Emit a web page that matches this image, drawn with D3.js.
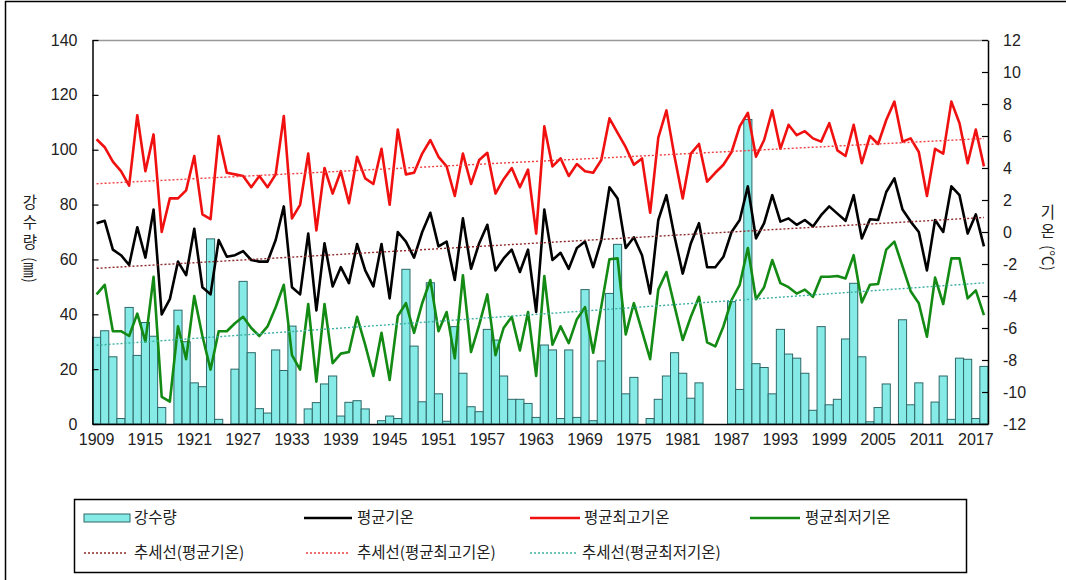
<!DOCTYPE html>
<html><head><meta charset="utf-8">
<script src="https://cdn.jsdelivr.net/npm/d3@7"></script>
<style>
body{margin:0;background:#fff;}
svg{display:block;}
.tk text{font-family:"Liberation Sans",Arial,sans-serif;font-size:16px;fill:#222;}
.kr{font-family:"Noto Sans CJK KR","Noto Sans",sans-serif;font-size:15.5px;fill:#222;}
</style></head><body>
<svg id="c" width="1066" height="580"></svg>
<script>
const years = [1909,1910,1911,1912,1913,1914,1915,1916,1917,1918,1919,1920,1921,1922,1923,1924,1925,1926,1927,1928,1929,1930,1931,1932,1933,1934,1935,1936,1937,1938,1939,1940,1941,1942,1943,1944,1945,1946,1947,1948,1949,1950,1951,1952,1953,1954,1955,1956,1957,1958,1959,1960,1961,1962,1963,1964,1965,1966,1967,1968,1969,1970,1971,1972,1973,1974,1975,1976,1977,1978,1979,1980,1981,1982,1983,1984,1985,1986,1987,1988,1989,1990,1991,1992,1993,1994,1995,1996,1997,1998,1999,2000,2001,2002,2003,2004,2005,2006,2007,2008,2009,2010,2011,2012,2013,2014,2015,2016,2017,2018];
const precip = [31.6,34,24.5,2,42.5,25,37,32,6,0,41.5,30,15,13.6,67.5,1.7,0,20,52,26,5.6,4,27,19.5,35.7,0,5.5,7.8,14.6,17.5,2.9,7.9,8.5,5.5,0,1.2,2.9,2,56.4,28.4,8.1,51.5,11,1,35.5,18.5,6.3,4.5,34.5,30.6,17.5,9,9,7.5,2.4,28.8,27,2,27,2.4,49,1.2,23,47.6,65.5,11,17,0,2,9,17.5,26,18.5,9.4,15,0,0,0,44.6,12.6,111,22,20.6,11,34.5,25.5,24,18.5,5,35.5,7,9,31,51.3,24.5,0.8,6,14.6,0,38,7,15,0,8,17.5,1.7,24,23.6,2,21];
const tMean = [0.55,0.7,-1.1,-1.45,-2.06,0.3,-1.6,1.4,-5.15,-4.2,-1.85,-2.7,0.2,-3.45,-3.9,-0.5,-1.55,-1.45,-1.2,-1.75,-1.85,-1.85,-0.5,1.6,-3.45,-3.9,-0.1,-4.9,-0.7,-3.4,-2.2,-3.2,-0.75,-2.4,-3.4,-0.75,-4.15,0,-0.6,-1.6,0,1.2,-0.9,-0.6,-3,0.85,-2.3,-0.7,0.45,-2.4,-1.65,-1.1,-2.5,-1.1,-5,1.4,-1.75,-1.3,-2.3,-1,-0.6,-2.2,-0.5,2.8,2.1,-1,-0.33,-1.45,-3.85,0.75,2.3,-0.3,-2.6,-0.7,0.55,-2.2,-2.2,-1.55,0,0.75,2.85,-0.4,0.55,2.3,0.65,0.85,0.45,0.75,0.35,1.05,1.6,1.15,0.7,2.3,-0.4,0.8,0.75,2.5,3.35,1.4,0.65,0,-2.4,0.75,0,2.85,2.3,-0.1,1.1,-0.9];
const tMax = [5.8,5.3,4.4,3.8,2.9,7.3,3.8,6.1,0,2.1,2.1,2.6,4.75,1.1,0.8,6,3.7,3.6,3.5,2.8,3.5,2.8,3.6,7.25,0.85,1.7,4.9,0.1,4,2.4,3.8,1.8,4.7,3.35,3,5.2,1.7,6.4,3.6,3.7,4.9,5.75,4.7,4.1,2.25,4.9,3,4.5,4.95,2.4,3.3,4,2.8,3.9,-0.1,6.6,4.1,4.6,3.5,4.25,3.8,3.7,4.5,7.1,6.2,5.3,4.2,4.6,1.2,5.9,7.6,4.7,2.1,4.9,5.5,3.15,3.7,4.2,5,6.6,7.45,4.7,5.75,7.6,5.2,6.7,6.05,6.3,5.85,5.65,6.8,5.1,4.75,6.7,4.3,6,5.5,7,8.15,5.65,5.85,5,2.25,5.2,4.9,8.15,6.8,4.3,6.4,4.1];
const tMin = [-3.9,-3.3,-6.2,-6.2,-6.5,-5.1,-6.85,-2.8,-10.3,-10.6,-5.9,-7.95,-4,-6.5,-8.6,-6.2,-6.2,-5.7,-5.3,-6,-6.5,-5.9,-4.7,-3.3,-7.7,-8.6,-4.5,-9.35,-4.5,-8.2,-7.6,-7.5,-5.3,-7.05,-9,-6.3,-9.25,-5.25,-4.45,-6.3,-4.45,-3,-6.2,-5,-7.9,-2.7,-7.5,-5.8,-3.9,-7.7,-6,-5.3,-7.4,-5,-9,-2.75,-7.05,-5.9,-6.95,-5.45,-4.7,-7.55,-4.65,-1.7,-1.65,-6.4,-4.45,-6.2,-7.95,-3.6,-2.5,-4.65,-6.75,-5.3,-4.05,-6.9,-7.15,-5.9,-4.25,-3.3,-1,-4.2,-3.45,-1.75,-3.2,-3.45,-3.85,-3.6,-4.05,-2.8,-2.8,-2.75,-2.9,-1.45,-4.4,-3.3,-3.25,-1.1,-0.6,-2.15,-3.7,-4.45,-6.55,-2.85,-4.5,-1.65,-1.65,-4.15,-3.65,-5.2];
const yearTicks = [1909,1915,1921,1927,1933,1939,1945,1951,1957,1963,1969,1975,1981,1987,1993,1999,2005,2011,2017];
const precipTicks = [0,20,40,60,80,100,120,140];
const tempTicks = [-12,-10,-8,-6,-4,-2,0,2,4,6,8,10,12];

const L = 92.5, R = 988, T = 40, B = 424;
const x = d3.scaleBand().domain(years).range([L, R]).padding(0);
const bw = x.bandwidth();
const yP = d3.scaleLinear().domain([0, 140]).range([B, T]);
const yT = d3.scaleLinear().domain([-12, 12]).range([B, T]);
const svg = d3.select('#c');

// outer frame
svg.append('line').attr('x1',5.5).attr('x2',5.5).attr('y1',1).attr('y2',580).attr('stroke','#000').attr('stroke-width',1.5);
svg.append('line').attr('x1',5).attr('x2',1066).attr('y1',1.5).attr('y2',1.5).attr('stroke','#000').attr('stroke-width',1.5);

// plot top border
svg.append('line').attr('x1',L).attr('x2',R).attr('y1',T+0.5).attr('y2',T+0.5).attr('stroke','#999').attr('stroke-width',1.5);

// bars
svg.append('g').selectAll('rect').data(years).join('rect')
  .attr('x', d => x(d)).attr('width', bw)
  .attr('y', (d,i) => yP(precip[i]))
  .attr('height', (d,i) => yP(0) - yP(precip[i]))
  .attr('fill', '#86EBE6').attr('stroke', '#2d6868').attr('stroke-width', 1);

const cx = i => x(years[i]) + bw / 2;
const line = d3.line().x((d,i) => cx(i)).y(d => yT(d));
function addLine(data, color) {
  svg.append('path').datum(data).attr('d', line).attr('fill','none')
    .attr('stroke', color).attr('stroke-width', 2.6).attr('stroke-linejoin','round');
}
addLine(tMax, '#F01010');
addLine(tMean, '#000000');
addLine(tMin, '#138A13');

function trend(data) {
  const n = data.length;
  const mx = d3.mean(data, (d,i) => i), my = d3.mean(data);
  let sxy = 0, sxx = 0;
  data.forEach((d,i) => { sxy += (i-mx)*(d-my); sxx += (i-mx)*(i-mx); });
  const b = sxy / sxx, a = my - b * mx;
  return [[0, a], [n-1, a + b*(n-1)]];
}
function addTrend(data, color) {
  const t = trend(data);
  svg.append('line').attr('x1', cx(t[0][0])).attr('y1', yT(t[0][1]))
    .attr('x2', cx(t[1][0])).attr('y2', yT(t[1][1]))
    .attr('stroke', color).attr('stroke-width', 1.4).attr('stroke-dasharray','2,2');
}
addTrend(tMean, '#8E2A2A');
addTrend(tMax, '#F04040');
addTrend(tMin, '#3CB0A0');

// axes
const ax1 = svg.append('g').attr('class','tk').attr('transform',`translate(${L},0)`)
  .call(d3.axisLeft(yP).tickValues(precipTicks).tickSize(-6).tickSizeOuter(0).tickPadding(15).tickFormat(d => String(d)));
const ax2 = svg.append('g').attr('class','tk').attr('transform',`translate(${R},0)`)
  .call(d3.axisRight(yT).tickValues(tempTicks).tickSize(-6).tickSizeOuter(0).tickPadding(15).tickFormat(d => String(d)));
const ax3 = svg.append('g').attr('class','tk').attr('transform',`translate(0,${B})`)
  .call(d3.axisBottom(x).tickValues(yearTicks).tickSize(0).tickSizeOuter(0).tickPadding(10).tickFormat(d => String(d)));
[ax1, ax2, ax3].forEach(a => {
  a.select('.domain').attr('stroke','#000').attr('stroke-width',1.5);
  a.selectAll('.tick line').attr('stroke','#000').attr('stroke-width',1.2);
  a.attr('font-family', null).attr('font-size', null);
});

// axis titles: stacked upright Hangul + rotated unit
function vTitle(cxp, word, y0, spacing, unit, uy) {
  svg.append('text').attr('class','kr').attr('x', cxp).attr('y', y0)
    .style('writing-mode','vertical-rl').style('text-orientation','upright')
    .style('letter-spacing', spacing + 'px').attr('text-anchor','start').text(word);
  svg.append('text').attr('class','kr').attr('transform', `translate(${cxp},${uy}) rotate(90)`)
    .attr('text-anchor','middle').attr('dy','0.36em').text(unit);
}
vTitle(30, '강수량', 194, 4.5, '(㎜)', 270);
vTitle(1048, '기온', 204, 4, '(℃)', 258);

// legend
const lg = svg.append('g');
lg.append('rect').attr('x',74.5).attr('y',499.5).attr('width',892).attr('height',73)
  .attr('fill','#fff').attr('stroke','#000').attr('stroke-width',1.5);
const r1 = 518, r2 = 553;
lg.append('rect').attr('x',84).attr('y',r1-4).attr('width',46).attr('height',8)
  .attr('fill','#86EBE6').attr('stroke','#2d6868');
const items1 = [
  {x1:304,x2:352,tx:357,c:'#000',t:'평균기온'},
  {x1:530,x2:580,tx:584,c:'#F01010',t:'평균최고기온'},
  {x1:750,x2:800,tx:805,c:'#138A13',t:'평균최저기온'}
];
lg.append('text').attr('class','kr').attr('x',134).attr('y',r1).attr('dy','0.35em').text('강수량');
items1.forEach(d => {
  lg.append('line').attr('x1',d.x1).attr('x2',d.x2).attr('y1',r1).attr('y2',r1).attr('stroke',d.c).attr('stroke-width',2.6);
  lg.append('text').attr('class','kr').attr('x',d.tx).attr('y',r1).attr('dy','0.35em').text(d.t);
});
const items2 = [
  {x1:84,x2:128,tx:134,c:'#8E2A2A',t:'추세선(평균기온)'},
  {x1:306,x2:350,tx:357,c:'#F04040',t:'추세선(평균최고기온)'},
  {x1:530,x2:576,tx:582,c:'#3CB0A0',t:'추세선(평균최저기온)'}
];
items2.forEach(d => {
  lg.append('line').attr('x1',d.x1).attr('x2',d.x2).attr('y1',r2).attr('y2',r2).attr('stroke',d.c).attr('stroke-width',1.4).attr('stroke-dasharray','2,2');
  lg.append('text').attr('class','kr').attr('x',d.tx).attr('y',r2).attr('dy','0.35em').text(d.t);
});
</script>
</body></html>
